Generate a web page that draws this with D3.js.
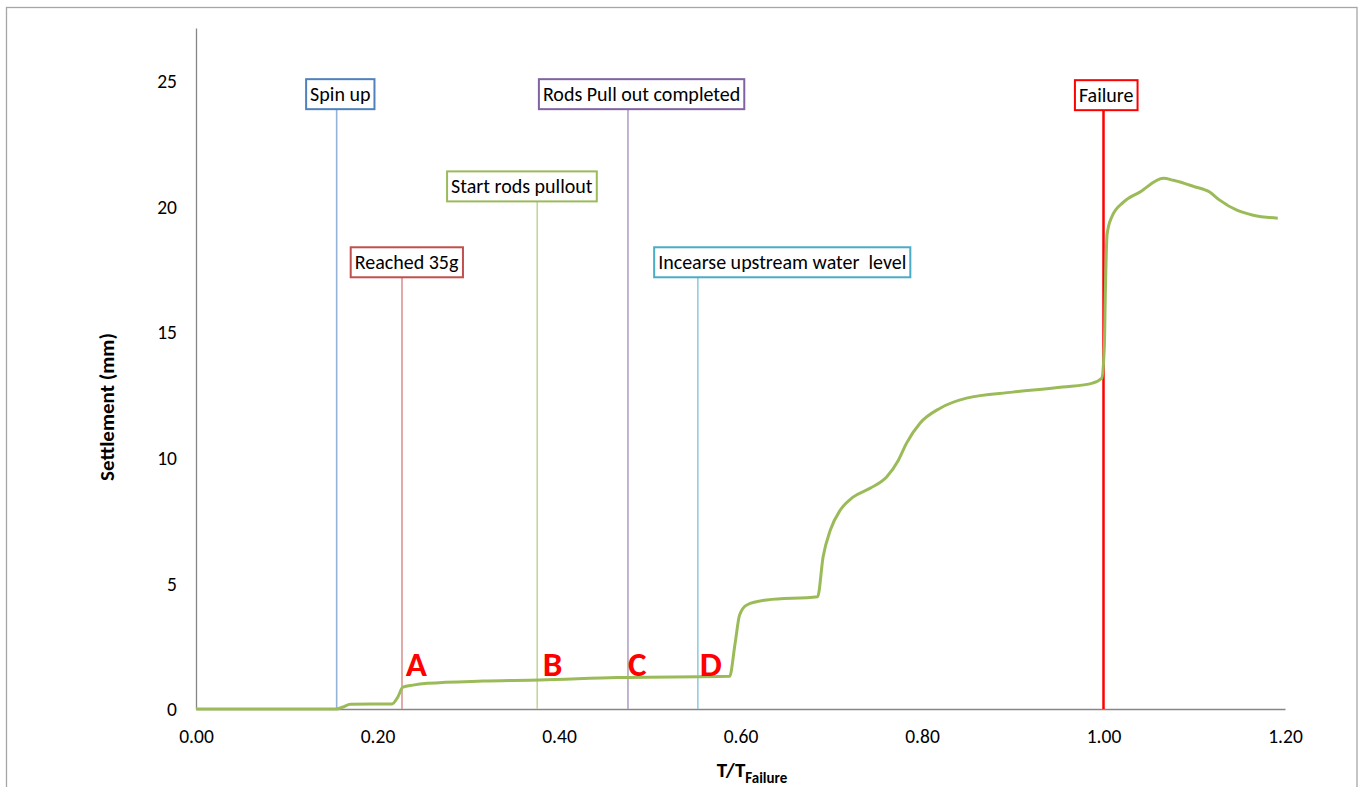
<!DOCTYPE html>
<html>
<head>
<meta charset="utf-8" />
<script src="https://cdn.jsdelivr.net/npm/d3@7"></script>
<style>
  body { margin: 0; background: #fff; }
  svg { font-family: Calibri, Carlito, "Open Sans", "Noto Sans", sans-serif; }
  .tick text { font-size: 19.5px; fill: #000; }
  .axisTitle { font-size: 21px; font-weight: bold; }
  .boxText { font-size: 20px; white-space: pre; }
  .letter { font-size: 35px; font-weight: bold; fill: #ff0000; }
</style>
</head>
<body>
<svg width="1365" height="787"></svg>
<script>
// settlement curve
var tRatio = [0, 0.155, 0.162, 0.17, 0.216, 0.222, 0.228, 0.239, 0.255, 0.316, 0.379, 0.464, 0.588,
  0.594, 0.599, 0.607, 0.629, 0.685, 0.691, 0.699, 0.710, 0.724, 0.743, 0.761, 0.774, 0.783, 0.798,
  0.820, 0.849, 0.900, 0.955, 0.988, 0.998, 1.001, 1.002, 1.004, 1.009, 1.022, 1.040, 1.066, 1.077,
  1.099, 1.117, 1.128, 1.147, 1.165, 1.192];
var settlement = [0, 0, 0.08, 0.19, 0.2, 0.45, 0.87, 0.95, 1.02, 1.11, 1.15, 1.25, 1.30,
  2.6, 3.74, 4.14, 4.34, 4.47, 6.05, 7.12, 7.92, 8.43, 8.79, 9.23, 9.9, 10.58, 11.38,
  11.97, 12.37, 12.61, 12.81, 12.97, 13.16, 14.5, 16.5, 18.9, 19.57, 20.17, 20.57, 21.12, 21.04,
  20.8, 20.57, 20.25, 19.85, 19.65, 19.53];

// event markers
var eventNames = ["Spin up", "Reached 35g", "Start rods pullout", "Rods Pull out completed",
  "Incearse upstream water  level", "Failure"];
var eventT = [0.155, 0.227, 0.376, 0.476, 0.553, 1.0];
var eventLabelT = [0.159, 0.232, 0.359, 0.491, 0.646, 1.003];
var eventLabelY = [23.87, 17.18, 20.2, 23.87, 17.18, 23.83];
var eventBoxColor = ["#4f81bd", "#c0504d", "#9bbb59", "#8064a2", "#4bacc6", "#ff0000"];
var eventLineColor = ["#95b3d7", "#d99694", "#c3d69b", "#b3a2c7", "#93cddd", "#ff0000"];

var letters = ["A", "B", "C", "D"];
var letterT = [0.231, 0.382, 0.476, 0.555];
var letterY = [1.27, 1.27, 1.27, 1.27];

var xTicks = [0, 0.2, 0.4, 0.6, 0.8, 1.0, 1.2];
var yTicks = [0, 5, 10, 15, 20, 25];

var svg = d3.select("svg");

// chart frame
svg.append("rect").attr("x", 6.5).attr("y", 7.5).attr("width", 1350.5).attr("height", 790)
  .attr("fill", "none").attr("stroke", "#a6a6a6").attr("stroke-width", 1.3);

var x = d3.scaleLinear().domain([0, 1.2]).range([196, 1285]);
var y = d3.scaleLinear().domain([0, 27.1]).range([709, 28]);

var gx = svg.append("g").attr("transform", "translate(0,709)")
  .call(d3.axisBottom(x).tickValues(xTicks).tickFormat(d3.format(".2f")).tickSize(0).tickPadding(20));
var gy = svg.append("g").attr("transform", "translate(196,0)")
  .call(d3.axisLeft(y).tickValues(yTicks).tickSize(0).tickPadding(19));
gx.attr("font-family", null);
gy.attr("font-family", null);
svg.selectAll(".domain").attr("stroke", "#868686").attr("stroke-width", 1.3);
gy.selectAll(".tick text").attr("dy", "0.35em");

// vertical event lines
eventNames.forEach(function(name, i) {
  svg.append("line")
    .attr("x1", x(eventT[i])).attr("x2", x(eventT[i]))
    .attr("y1", y(eventLabelY[i])).attr("y2", y(0))
    .attr("stroke", eventLineColor[i])
    .attr("stroke-width", i == 5 ? 2.5 : 1.6);
});

// series
var pts = tRatio.map(function(t, i) { return [t, settlement[i]]; });
svg.append("path").datum(pts)
  .attr("d", d3.line().x(function(d) { return x(d[0]); }).y(function(d) { return y(d[1]); })
    .curve(d3.curveMonotoneX))
  .attr("fill", "none").attr("stroke", "#9bbb59").attr("stroke-width", 3);

// event labels
eventNames.forEach(function(name, i) {
  var g = svg.append("g");
  var cx = x(eventLabelT[i]), cy = y(eventLabelY[i]) - 15;
  var txt = g.append("text").attr("class", "boxText")
    .attr("x", cx).attr("y", cy).attr("text-anchor", "middle").attr("dy", "0.35em").text(name);
  var bb = txt.node().getBBox();
  g.insert("rect", "text")
    .attr("x", bb.x - 4).attr("y", cy - 15).attr("width", bb.width + 8).attr("height", 30)
    .attr("fill", "#fff").attr("stroke", eventBoxColor[i]).attr("stroke-width", 2);
});

// point letters
svg.selectAll(".letter").data(letters).enter().append("text")
  .attr("class", "letter")
  .attr("x", function(d, i) { return x(letterT[i]); })
  .attr("y", function(d, i) { return y(letterY[i]) - 1; })
  .text(function(d) { return d; });

// axis titles
svg.append("text").attr("class", "axisTitle")
  .attr("transform", "translate(114,407) rotate(-90)")
  .attr("text-anchor", "middle").text("Settlement (mm)");
var xt = svg.append("text").attr("class", "axisTitle").attr("x", 752).attr("y", 777)
  .attr("text-anchor", "middle");
xt.append("tspan").text("T/T");
xt.append("tspan").attr("dy", 6).style("font-size", "15px").text("Failure");
</script>
</body>
</html>
